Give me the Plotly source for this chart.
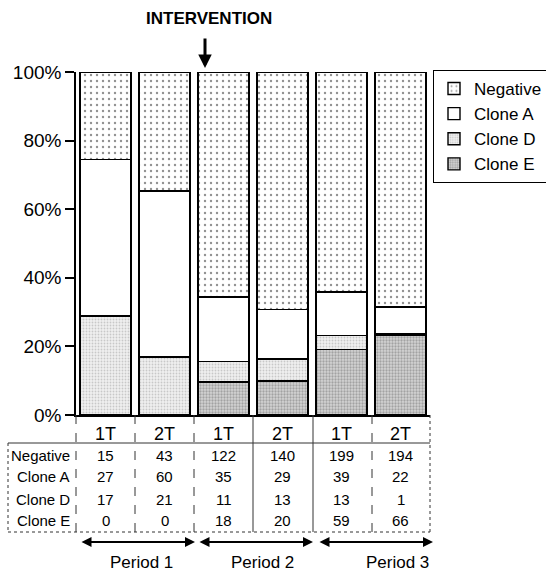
import plotly.graph_objects as go

# ---- data ----
periods = ["Period 1", "Period 2", "Period 3"]
times = ["1T", "2T", "1T", "2T", "1T", "2T"]
row_names = ["Negative", "Clone A", "Clone D", "Clone E"]
negative = [15, 43, 122, 140, 199, 194]
clone_a = [27, 60, 35, 29, 39, 22]
clone_d = [17, 21, 11, 13, 13, 1]
clone_e = [0, 0, 18, 20, 59, 66]
y_ticks = [0, 20, 40, 60, 80, 100]

xs = list(range(len(times)))
FONT = "Liberation Sans, Arial, sans-serif"

# pixel -> paper helpers (plot area: x 76..430, y 72..415)
L, R, T, B = 76, 430, 72, 415
def px(p):
    return (p - L) / (R - L)
def py(p):
    return (B - p) / (B - T)

fig = go.Figure()
styles = {
    "Clone E": dict(fillmode="overlay", shape=".", bgcolor="#d4d4d4", fgcolor="#707070", size=3, solidity=0.45),
    "Clone D": dict(fillmode="overlay", shape=".", bgcolor="#f0f0f0", fgcolor="#a0a0a0", size=3, solidity=0.3),
    "Clone A": None,
    "Negative": dict(fillmode="overlay", shape=".", bgcolor="white", fgcolor="#222222", size=6, solidity=0.12),
}
series = [("Clone E", clone_e), ("Clone D", clone_d), ("Clone A", clone_a), ("Negative", negative)]
for name, vals in series:
    marker = dict(color="white", line=dict(color="black", width=1.4))
    if styles[name] is not None:
        marker["pattern"] = styles[name]
    fig.add_trace(go.Bar(x=xs, y=vals, name=name, width=0.86, marker=marker,
                         legendgroup=name))

fig.update_layout(
    width=546, height=573,
    margin=dict(l=L, r=546 - R, t=T, b=573 - B, pad=0, autoexpand=False),
    barmode="stack", barnorm="percent",
    plot_bgcolor="white", paper_bgcolor="white",
    font=dict(family=FONT, color="black", size=16),
    showlegend=True,
    legend=dict(x=px(433), y=py(70), xanchor="left", yanchor="top",
                traceorder="reversed", bordercolor="black", borderwidth=1,
                bgcolor="white", font=dict(size=17), itemwidth=30,
                tracegroupgap=6),
)
fig.update_xaxes(range=[-0.5, 5.5], tickmode="array", tickvals=xs, ticktext=times,
                 showline=True, linecolor="black", linewidth=1.5, ticks="",
                 showgrid=False, zeroline=False, tickfont=dict(size=18),
                 ticklabelstandoff=2)
fig.update_yaxes(range=[0, 100], tickmode="array", tickvals=y_ticks,
                 ticktext=[f"{v}%" for v in y_ticks],
                 showline=True, linecolor="black", linewidth=1.5,
                 ticks="outside", ticklen=9, tickcolor="black", tickwidth=1.5,
                 showgrid=False, zeroline=False, tickfont=dict(size=19))

# ---- table ----
shapes = []
def seg(x0, y0, x1, y1, dash="solid"):
    shapes.append(dict(type="line", xref="paper", yref="paper",
                       x0=px(x0), y0=py(y0), x1=px(x1), y1=py(y1),
                       line=dict(color="#333333", width=1, dash=dash)))
seg(8, 443, R, 443)
seg(8, 532, R, 532, "dot")
seg(8, 443, 8, 532, "dot")
seg(R, B, R, 532, "dot")
seg(L, B, L, 532, "dash")
for xp in [135, 194, 253, 313, 372]:
    seg(xp, B, xp, 532, "solid" if xp in (253, 313) else "dash")

annotations = []
row_y = [455, 477, 499, 520]
table = [negative, clone_a, clone_d, clone_e]
for name, yp, vals in zip(row_names, row_y, table):
    annotations.append(dict(text=name, xref="paper", yref="paper", x=px(72), y=py(yp),
                            xanchor="right", yanchor="middle", showarrow=False,
                            font=dict(size=15)))
    for i, v in enumerate(vals):
        annotations.append(dict(text=str(v), xref="x", yref="paper", x=i, y=py(yp),
                                xanchor="center", yanchor="middle", showarrow=False,
                                font=dict(size=15)))

# period arrows and labels
arrow_spans = [(80, 195), (198, 313), (318, 433)]
label_x = [141, 262, 397]
for (a, b), lx, name in zip(arrow_spans, label_x, periods):
    annotations.append(dict(text="", xref="x domain", yref="y domain", x=px(b), y=py(542),
                            axref="x domain", ayref="y domain", ax=px(a), ay=py(542),
                            showarrow=True, arrowhead=2, startarrowhead=2,
                            arrowside="end+start", arrowwidth=2, arrowsize=1,
                            startarrowsize=1, arrowcolor="black"))
    annotations.append(dict(text=name, xref="paper", yref="paper", x=px(lx), y=py(562),
                            xanchor="center", yanchor="middle", showarrow=False,
                            font=dict(size=17)))

# intervention
annotations.append(dict(text="<b>INTERVENTION</b>", xref="paper", yref="paper",
                        x=px(209), y=py(18), xanchor="center", yanchor="middle",
                        showarrow=False, font=dict(size=17)))
annotations.append(dict(text="", xref="x domain", yref="y domain", x=px(205), y=py(68),
                        axref="x domain", ayref="y domain", ax=px(205), ay=py(37),
                        showarrow=True, arrowhead=2, arrowwidth=3, arrowsize=0.9,
                        arrowcolor="black"))

fig.update_layout(shapes=shapes, annotations=annotations)
fig.write_html("out.html", config={"displayModeBar": False},
               post_script="document.body.style.margin='0';document.body.style.padding='0';")
